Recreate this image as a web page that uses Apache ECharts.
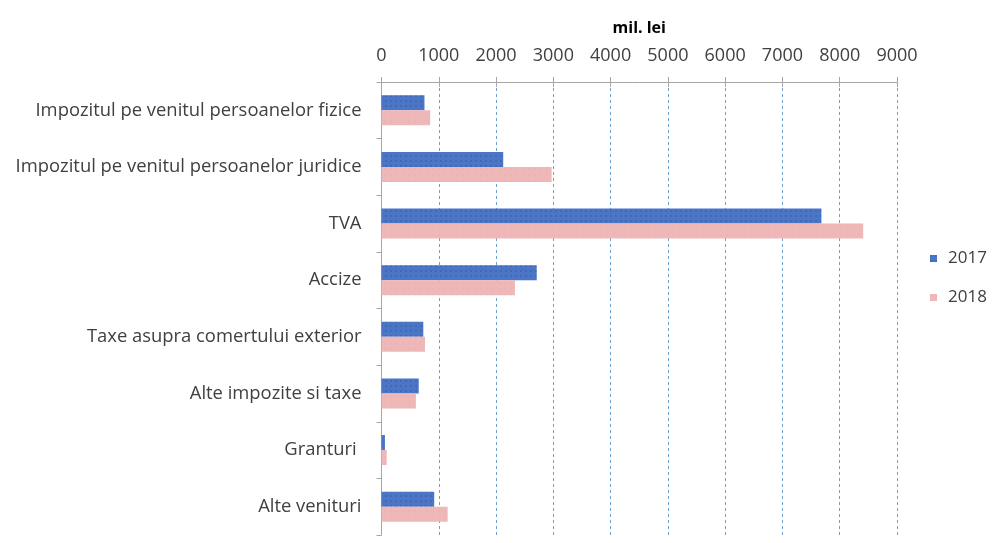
<!DOCTYPE html>
<html>
<head>
<meta charset="utf-8">
<script src="https://cdn.jsdelivr.net/npm/echarts@6/dist/echarts.min.js"></script>
<style>
  html, body { margin: 0; padding: 0; background: #fff; }
  #chart { width: 994px; height: 543px; }
</style>
</head>
<body>
<div id="chart"></div>
<script>
const categories = [
  'Impozitul pe venitul persoanelor fizice',
  'Impozitul pe venitul persoanelor juridice',
  'TVA',
  'Accize',
  'Taxe asupra comertului exterior',
  'Alte impozite si taxe',
  'Granturi ',
  'Alte venituri'
]
const values2017 = [750, 2125, 7680, 2710, 730, 650, 60, 920]
const values2018 = [850, 2970, 8410, 2330, 760, 600, 90, 1155]
const seriesNames = ['2017', '2018']

const chart = echarts.init(document.getElementById('chart'))

const font = '"Open Sans", Lato, sans-serif'
const axisGray = '#a6a6a6'

const option = {
  animation: false,
  textStyle: { fontFamily: font },
  legend: {
    orient: 'vertical',
    left: 925,
    top: 245,
    itemWidth: 7,
    itemHeight: 7,
    itemGap: 22,
    icon: 'rect',
    textStyle: { fontSize: 17, color: '#404040', fontFamily: font, padding: [0, 0, 0, 6] },
    data: seriesNames
  },
  grid: {
    left: 381.5,
    right: 97,
    top: 82,
    bottom: 8
  },
  xAxis: [
    {
      type: 'value',
      position: 'top',
      min: 0,
      max: 9000,
      interval: 1000,
      name: 'mil. lei',
      nameLocation: 'middle',
      nameGap: 46,
      nameTextStyle: { fontWeight: 'bold', fontSize: 16, color: '#000', fontFamily: font },
      axisLine: { show: true, lineStyle: { color: axisGray } },
      axisTick: { show: true, length: 5, lineStyle: { color: axisGray } },
      axisLabel: { fontSize: 18, color: '#404040', margin: 17, formatter: v => String(v) },
      splitLine: { show: true, lineStyle: { color: '#6e9fc8', type: [3, 3], width: 1 } }
    },
    {
      // second copy of the top axis only to draw the inner half of the crossing ticks
      type: 'value',
      position: 'top',
      min: 0,
      max: 9000,
      interval: 1000,
      axisLine: { show: false },
      axisTick: { show: true, inside: true, length: 5, lineStyle: { color: axisGray } },
      axisLabel: { show: false },
      splitLine: { show: false }
    }
  ],
  yAxis: {
    type: 'category',
    inverse: true,
    data: categories,
    axisLine: { show: true, lineStyle: { color: axisGray } },
    axisTick: { show: true, length: 5, lineStyle: { color: axisGray } },
    axisLabel: { fontSize: 18.4, color: '#404040', margin: 20 }
  },
  series: [
    {
      name: seriesNames[0],
      type: 'bar',
      xAxisIndex: 0,
      data: values2017,
      barWidth: 15,
      barGap: '0%',
      itemStyle: {
        color: '#4b76c6',
        decal: {
          symbol: 'rect',
          symbolSize: 0.6,
          color: 'rgba(25, 45, 110, 0.55)',
          dashArrayX: [2, 3],
          dashArrayY: [2, 3],
          rotation: 0
        }
      }
    },
    {
      name: seriesNames[1],
      type: 'bar',
      xAxisIndex: 0,
      data: values2018,
      barWidth: 15,
      barGap: '0%',
      itemStyle: {
        color: '#efb8b8',
        decal: {
          symbol: 'rect',
          symbolSize: 0.6,
          color: 'rgba(230, 160, 160, 0.6)',
          dashArrayX: [2, 4],
          dashArrayY: [2, 4],
          rotation: 0
        }
      }
    }
  ]
}

chart.setOption(option)
</script>
</body>
</html>
